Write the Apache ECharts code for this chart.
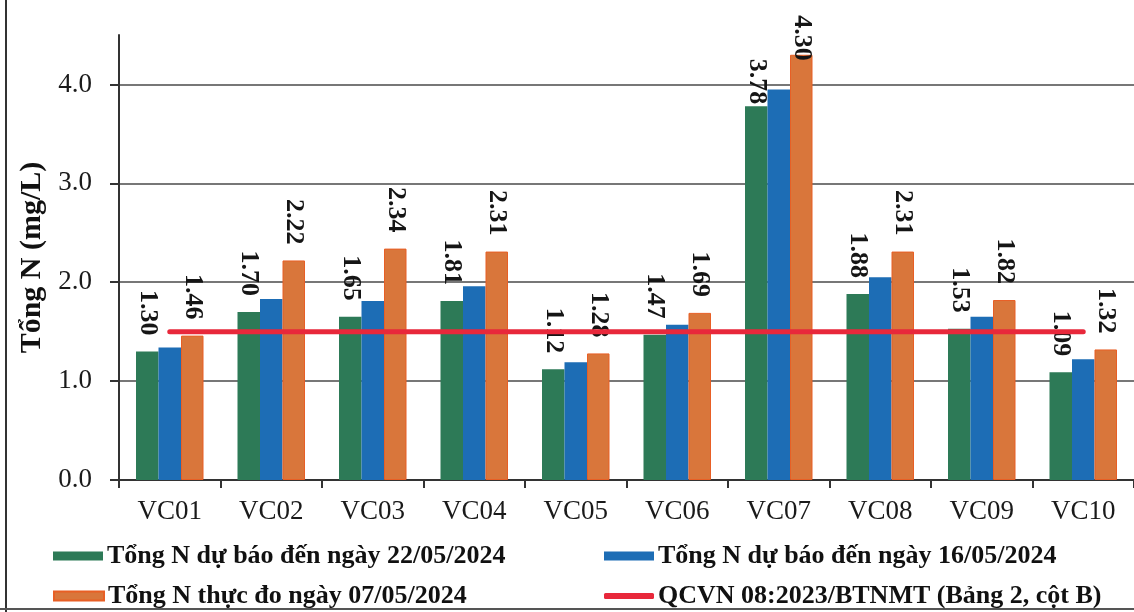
<!DOCTYPE html>
<html>
<head>
<meta charset="utf-8">
<script src="https://cdn.jsdelivr.net/npm/echarts@6/dist/echarts.min.js"></script>
<style>
  html, body { margin: 0; padding: 0; background: #ffffff; }
  #chart { width: 1134px; height: 612px; }
</style>
</head>
<body>
<div id="chart"></div>
<script>
const categories = ['VC01', 'VC02', 'VC03', 'VC04', 'VC05', 'VC06', 'VC07', 'VC08', 'VC09', 'VC10'];
const forecast22 = [1.30, 1.70, 1.65, 1.81, 1.12, 1.47, 3.78, 1.88, 1.53, 1.09];
const forecast16 = [1.34, 1.83, 1.81, 1.96, 1.19, 1.57, 3.95, 2.05, 1.65, 1.22];
const measured07 = [1.46, 2.22, 2.34, 2.31, 1.28, 1.69, 4.30, 2.31, 1.82, 1.32];
const qcvnLimit = 1.5;
const yTicks = [0, 1, 2, 3, 4];
const seriesNames = [
  'Tổng N dự báo đến ngày 22/05/2024',
  'Tổng N dự báo đến ngày 16/05/2024',
  'Tổng N thực đo ngày 07/05/2024',
  'QCVN 08:2023/BTNMT (Bảng 2, cột B)'
];

const SERIF = '"Liberation Serif", "DejaVu Serif", serif';
const colGreen = '#2d7a57';
const colBlue = '#1d6db5';
const colOrange = '#d9763b';
const colRed = '#e8283b';

const labelBase = {
  show: true,
  position: 'top',
  rotate: -90,
  align: 'right',
  verticalAlign: 'middle',
  distance: 16,
  fontFamily: SERIF,
  fontWeight: 'bold',
  fontSize: 26,
  color: '#151515',
  formatter: p => Number(p.value).toFixed(2)
};

// VC07 labels sit closer to the bar tops in the reference
const labelTweaks = { 6: [2, -6] };
function withLabels(values, which) {
  return values.map((v, i) => labelTweaks[i] ? { value: v, label: { distance: labelTweaks[i][which] } } : v);
}

const chart = echarts.init(document.getElementById('chart'), null, { renderer: 'canvas' });

function legendAt(name, left, top, icon, h) {
  return {
    data: [name],
    left: left,
    top: top,
    padding: 0,
    icon: icon,
    itemWidth: 50,
    itemHeight: h,
    itemGap: 0,
    selectedMode: false,
    textStyle: { fontFamily: SERIF, fontWeight: 'bold', fontSize: 26, color: '#111', lineHeight: 30, padding: [0, 0, 0, -1] }
  };
}

chart.setOption({
  backgroundColor: '#ffffff',
  animation: false,
  grid: { left: 119, right: 0, top: 35, bottom: 132, containLabel: false },
  legend: [
    legendAt(seriesNames[0], 53, 541, 'rect', 9),
    legendAt(seriesNames[1], 604, 541, 'rect', 9),
    legendAt(seriesNames[2], 53, 581, 'rect', 9),
    legendAt(seriesNames[3], 604, 581, 'roundRect', 6)
  ],
  xAxis: {
    type: 'category',
    data: categories,
    boundaryGap: true,
    axisLine: { show: true, lineStyle: { color: '#333', width: 2 } },
    axisTick: { show: true, length: 8, lineStyle: { color: '#333', width: 2 } },
    axisLabel: { fontFamily: SERIF, fontSize: 27, color: '#1a1a1a', margin: 18 }
  },
  yAxis: {
    type: 'value',
    min: 0,
    max: 4.5,
    interval: 1,
    name: 'Tổng N (mg/L)',
    nameLocation: 'middle',
    nameGap: 72,
    nameTextStyle: { fontFamily: SERIF, fontWeight: 'bold', fontSize: 30, color: '#111' },
    axisLine: { show: true, lineStyle: { color: '#333', width: 2 } },
    axisTick: { show: true, length: 9, customValues: yTicks, lineStyle: { color: '#333', width: 2 } },
    axisLabel: {
      customValues: yTicks,
      fontFamily: SERIF, fontSize: 27, color: '#1a1a1a', margin: 27,
      formatter: v => Number(v).toFixed(1)
    },
    splitLine: { show: true, lineStyle: { color: '#4a4a4a', width: 1.5 } }
  },
  series: [
    {
      name: seriesNames[0], type: 'bar', data: withLabels(forecast22, 0),
      barWidth: 22.5, barGap: '0%',
      itemStyle: { color: colGreen },
      label: labelBase
    },
    {
      name: seriesNames[1], type: 'bar', data: forecast16,
      barWidth: 22.5, barGap: '0%',
      itemStyle: { color: colBlue }
    },
    {
      name: seriesNames[2], type: 'bar', data: withLabels(measured07, 1),
      barWidth: 22.5, barGap: '0%',
      itemStyle: { color: colOrange, borderColor: '#e85f25', borderWidth: 1 },
      label: labelBase
    },
    {
      name: seriesNames[3], type: 'line', data: categories.map(() => qcvnLimit),
      symbol: 'none', z: 5,
      lineStyle: { color: colRed, width: 5, cap: 'round' },
      itemStyle: { color: colRed }
    }
  ],
  graphic: [
    { type: 'line', shape: { x1: 6, y1: 0, x2: 6, y2: 612 }, style: { stroke: '#333', lineWidth: 2 }, silent: true },
    { type: 'line', shape: { x1: 0, y1: 609, x2: 1134, y2: 609 }, style: { stroke: '#555', lineWidth: 2 }, silent: true }
  ]
});
</script>
</body>
</html>
